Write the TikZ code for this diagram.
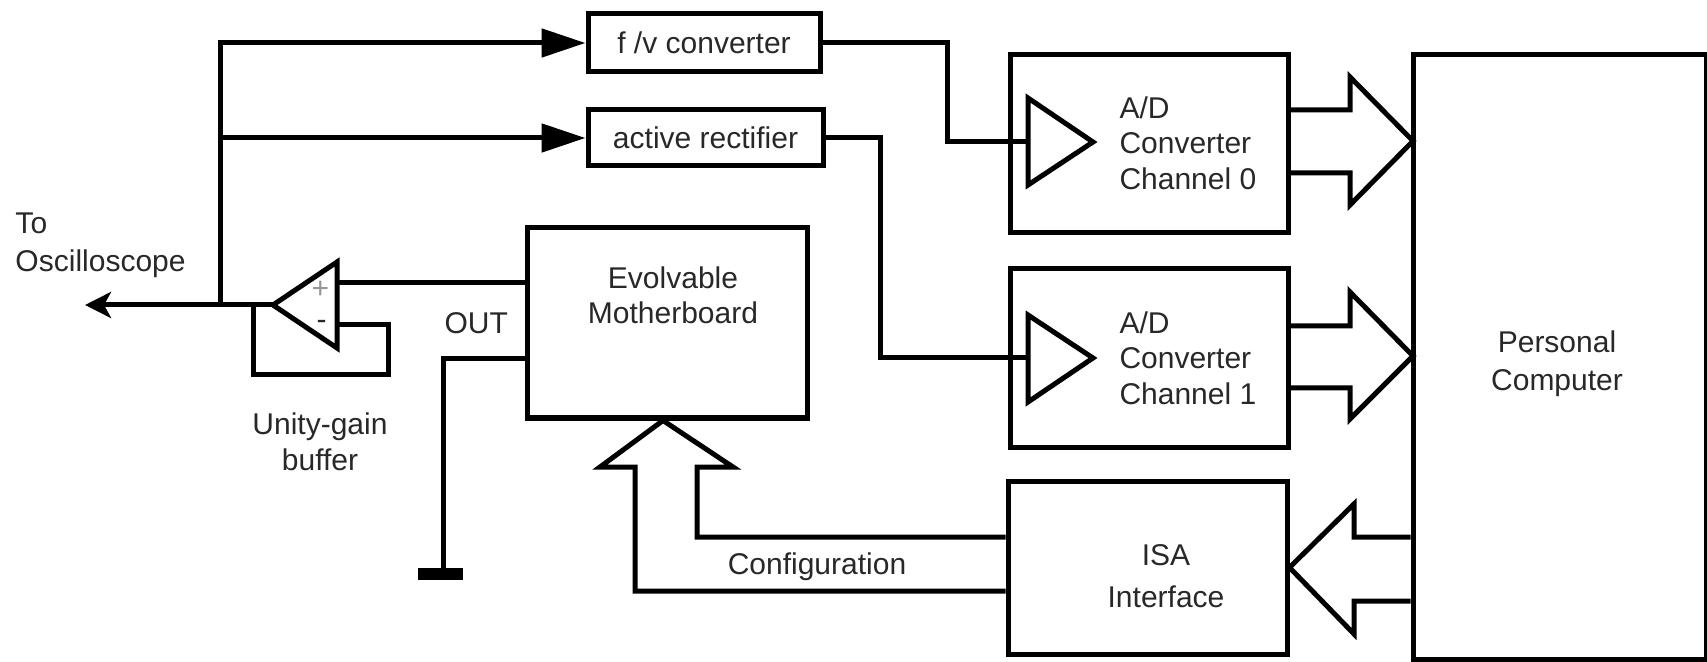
\documentclass[tikz,border=0pt]{standalone}
\usepackage{fontspec}
\setmainfont{Liberation Sans}
\usetikzlibrary{arrows.meta}
\definecolor{txtc}{RGB}{40,40,40}
\definecolor{pluscol}{RGB}{150,150,150}
\begin{document}
\begin{tikzpicture}[x=0.5pt,y=-0.5pt,line width=2.5pt,
  box/.style={draw,line width=2.5pt,inner sep=0pt},
  txt/.style={font=\fontsize{15pt}{18pt}\selectfont,text=txtc,inner sep=0pt},
  sig/.style={-{Triangle[length=22pt,width=14pt]}},
  outarr/.style={-{Stealth[length=13pt,width=13pt,inset=3.5pt]}}]
\useasboundingbox (0,0) rectangle (1707,662);
% boxes
\node[box,txt,minimum width=116pt,minimum height=29pt] (fv) at (704,43) {f /v converter};
\node[box,txt,minimum width=117.5pt,minimum height=28pt] (ar) at (705.5,138) {active rectifier};
\node[box,minimum width=140pt,minimum height=95pt] (mb) at (667,323) {};
\node[box,minimum width=139pt,minimum height=89pt] (adc0) at (1149,144) {};
\node[box,minimum width=139pt,minimum height=89pt] (adc1) at (1149,358) {};
\node[box,minimum width=139.5pt,minimum height=86.5pt] (isa) at (1147.5,567.5) {};
\node[box,minimum width=146.5pt,minimum height=302pt] (pc) at (1559.5,357) {};
% texts
\node[txt,anchor=base west] (tol) at (13,234) {\begin{tabular}[t]{@{}l@{}}To\\[0.75pt]Oscilloscope\end{tabular}};
\node[txt,anchor=base] (ugl) at (320,434) {\begin{tabular}[t]{@{}c@{}}Unity-gain\\buffer\end{tabular}};
\node[txt,anchor=base west] (outl) at (442,334) {OUT};
\node[txt,anchor=base] (mbt) at (673,288.5) {\begin{tabular}[t]{@{}c@{}}Evolvable\\[-0.25pt]Motherboard\end{tabular}};
\node[txt,anchor=base west] (adt0) at (1117,118.5) {\begin{tabular}[t]{@{}l@{}}A/D\\[-0.25pt]Converter\\[-0.25pt]Channel 0\end{tabular}};
\node[txt,anchor=base west] (adt1) at (1117,333.5) {\begin{tabular}[t]{@{}l@{}}A/D\\[-0.25pt]Converter\\[-0.25pt]Channel 1\end{tabular}};
\node[txt,anchor=base] (isat) at (1166,565) {\begin{tabular}[t]{@{}c@{}}ISA\\[3pt]Interface\end{tabular}};
\node[txt,anchor=base] (pct) at (1557,353) {\begin{tabular}[t]{@{}c@{}}Personal\\[1pt]Computer\end{tabular}};
\node[txt,anchor=base] (conf) at (817,574) {Configuration};
% op-amp
\coordinate (oin) at (337,283);
\coordinate (omi) at (337,325);
\coordinate (oout) at (273,305);
\draw (337,262) -- (337,348) -- (oout) -- cycle;
\node[txt,text=pluscol] (plus) at (320.5,289.5) {+};
\node[txt] (minus) at (321.5,325) {-};
% output to oscilloscope
\coordinate (scope) at (85,305);
\coordinate (jn) at (220,305);
\draw[outarr] (oout) -- (scope);
\draw[sig] (jn) |- (fv.west);
\coordinate (jn2) at (jn |- ar.west);
\draw[sig] (jn2) -- (ar.west);
% feedback loop
\draw (omi) -- (388,325) -- (388,375) -- (253,375) -- (253,305);
% input from motherboard
\draw (mb.west |- oin) -- (oin);
% ground
\coordinate (g0) at (443,359);
\coordinate (gnd) at (443,570);
\draw (g0 -| mb.west) -- (g0) -- (gnd);
\fill (418,568) rectangle (463,580);
% ADC inputs
\coordinate (a0in) at (1028,142);
\coordinate (a1in) at (1028,358);
\draw (fv.east) -| (947,142) -- (a0in);
\draw (ar.east) -| (880,358) -- (a1in);
\draw (1028,98) -- (1028,185) -- (1093,142) -- cycle;
\draw (1028,315) -- (1028,402) -- (1093,358) -- cycle;
% bus arrows to PC
\draw ([yshift=17pt]adc0.east) -- (1350,110) -- (1350,77) -- (1413,141) -- (1350,205) -- (1350,173) -- ([yshift=-14.5pt]adc0.east);
\draw ([yshift=16pt]adc1.east) -- (1350,326) -- (1350,292) -- (1413,356) -- (1350,419) -- (1350,388) -- ([yshift=-15pt]adc1.east);
% bus arrow PC to ISA
\draw ([yshift=-90pt]pc.west) -- (1354,537) -- (1354,504) -- (isa.east) -- (1354,634) -- (1354,601) -- ([yshift=-122pt]pc.west);
% configuration bus
\draw ([yshift=15.25pt]isa.west) -- (697,537) -- (697,467) -- (733,467) -- ([xshift=-2pt]mb.south) -- (600,467) -- (635,467) -- (635,591) -- ([yshift=-11.75pt]isa.west);
\end{tikzpicture}
\end{document}
